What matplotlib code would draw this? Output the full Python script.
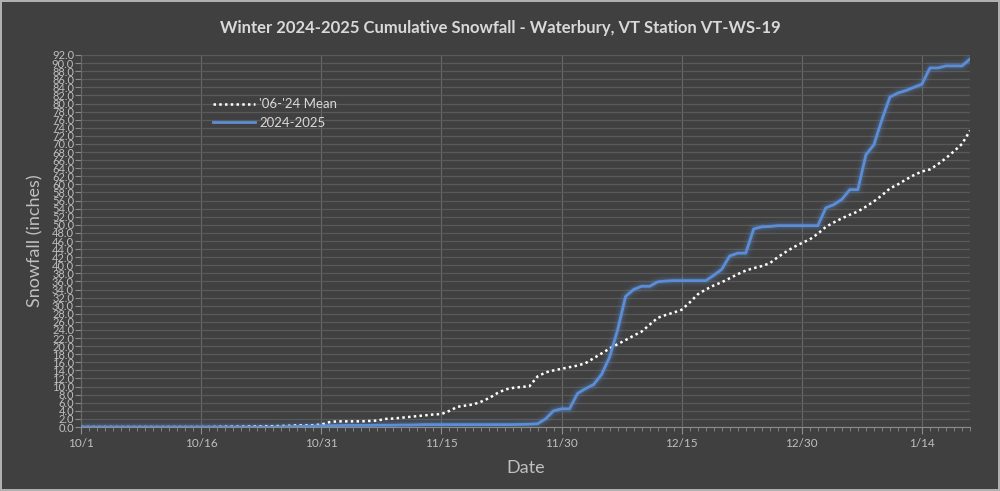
import numpy as np
import pandas as pd
import matplotlib
matplotlib.use('Agg')
import matplotlib.pyplot as plt
from matplotlib.ticker import MultipleLocator

plt.rcParams['font.family'] = ['Lato', 'DejaVu Sans']

# Daily cumulative snowfall (inches), 10/1/2024 .. 1/20/2025
START_DATE = '2024-10-01'

mean_06_24 = [
    0.0, 0.0, 0.0, 0.0, 0.0, 0.0, 0.0, 0.0, 0.0, 0.0,
    0.0, 0.0, 0.0, 0.0, 0.0, 0.0, 0.0, 0.05, 0.1, 0.1,
    0.1, 0.15, 0.15, 0.2, 0.2, 0.25, 0.3, 0.4, 0.4, 0.45,
    0.6, 1.2, 1.4, 1.4, 1.4, 1.4, 1.5, 1.6, 2.0, 2.1,
    2.3, 2.5, 2.7, 2.9, 3.1, 3.2, 4.0, 5.0, 5.3, 5.6,
    6.3, 7.2, 8.4, 9.3, 9.7, 9.9, 10.1, 12.5, 13.5, 14.0,
    14.4, 14.8, 15.2, 15.8, 17.0, 18.2, 19.4, 20.5, 21.5, 22.6,
    23.6, 25.3, 27.0, 27.7, 28.3, 29.0, 30.8, 32.8, 34.0, 35.0,
    35.8, 36.8, 37.8, 38.7, 39.3, 39.8, 40.5, 42.0, 43.3, 44.5,
    45.5, 46.4, 47.8, 49.5, 50.6, 51.6, 52.5, 53.3, 54.5, 55.8,
    57.3, 59.0, 60.0, 61.2, 62.3, 63.2, 63.7, 65.0, 66.5, 68.2,
    70.0, 73.3,
]

season_24_25 = [
    0.0, 0.0, 0.0, 0.0, 0.0, 0.0, 0.0, 0.0, 0.0, 0.0,
    0.0, 0.0, 0.0, 0.0, 0.0, 0.0, 0.0, 0.0, 0.0, 0.0,
    0.0, 0.0, 0.0, 0.0, 0.0, 0.05, 0.1, 0.15, 0.2, 0.25,
    0.3, 0.35, 0.35, 0.4, 0.4, 0.4, 0.4, 0.45, 0.45, 0.45,
    0.5, 0.5, 0.55, 0.6, 0.6, 0.6, 0.6, 0.6, 0.6, 0.6,
    0.6, 0.6, 0.6, 0.6, 0.6, 0.65, 0.7, 0.8, 2.0, 4.0,
    4.5, 4.5, 8.3, 9.5, 10.5, 13.0, 17.3, 24.0, 32.3, 34.0,
    34.8, 34.8, 35.9, 36.1, 36.2, 36.2, 36.2, 36.2, 36.2, 37.5,
    39.0, 42.3, 43.0, 43.0, 49.0, 49.5, 49.6, 49.8, 49.8, 49.8,
    49.8, 49.8, 49.8, 54.2, 55.0, 56.3, 58.7, 58.7, 67.3, 69.8,
    76.0, 81.6, 82.6, 83.2, 84.0, 84.8, 88.8, 88.8, 89.3, 89.3,
    89.3, 91.0,
]

x_tick_labels = ['10/1', '10/16', '10/31', '11/15', '11/30', '12/15', '12/30', '1/14']

BG = '#404040'
TXT = '#d9d9d9'
TICK_TXT = '#bfbfbf'
GRID = '#595959'
BLUE = '#5b8ed6'

dates = pd.date_range(START_DATE, periods=len(mean_06_24), freq='D')
day = np.arange(len(dates))

fig = plt.figure(figsize=(10.0, 4.91), dpi=100, facecolor=BG)
fig.patch.set_edgecolor('#b0b0b0')
fig.patch.set_linewidth(1.5)
ax = fig.add_axes([0.081, 0.1303, 0.889, 0.7577], facecolor=BG)

# glow behind the season line
for lw, a in [(9, 0.06), (6, 0.10), (4, 0.16)]:
    ax.plot(day, season_24_25, color=BLUE, lw=lw, alpha=a, solid_capstyle='round', zorder=2)

ax.plot(day, mean_06_24, color='white', lw=1.8, linestyle=(0, (1, 1.3)),
        label="'06-'24 Mean", zorder=3)
ax.plot(day, season_24_25, color=BLUE, lw=2.0, label='2024-2025', zorder=4)

ax.set_xlim(0, len(day) - 1)
ax.set_ylim(0, 92)

ax.set_xticks(day[::15])
ax.set_xticklabels(x_tick_labels)
ax.xaxis.set_minor_locator(MultipleLocator(1))
ax.yaxis.set_major_locator(MultipleLocator(2))
ax.set_yticklabels([f'{v:.1f}' for v in ax.get_yticks()])

ax.tick_params(axis='x', which='major', colors='#8c8c8c', labelcolor=TICK_TXT,
               labelsize=8.5, length=5, pad=3)
ax.tick_params(axis='x', which='minor', colors='#8c8c8c', length=3)
ax.tick_params(axis='y', which='major', colors='#8c8c8c', labelcolor=TICK_TXT,
               labelsize=8, length=4, pad=1)

ax.grid(axis='y', color=GRID, lw=0.9, zorder=0)
ax.grid(axis='x', which='major', color='#666666', lw=0.8, zorder=0)
ax.set_axisbelow(True)

for side in ['top', 'right']:
    ax.spines[side].set_visible(False)
ax.spines['left'].set_color('#6a6a6a')
ax.spines['bottom'].set_color('#8c8c8c')

ax.set_ylabel('Snowfall (inches)', color=TICK_TXT, fontsize=13, labelpad=6)
ax.set_xlabel('Date', color=TICK_TXT, fontsize=13, labelpad=8)

fig.suptitle('Winter 2024-2025 Cumulative Snowfall - Waterbury, VT Station VT-WS-19',
             color=TXT, fontsize=12, fontweight='bold', y=0.96)

leg = ax.legend(loc='upper left', bbox_to_anchor=(0.135, 0.915), frameon=False,
                fontsize=9.5, handlelength=3.2, handletextpad=0.3, labelspacing=0.5)
for t in leg.get_texts():
    t.set_color(TXT)

fig.savefig('out.png', dpi=100, facecolor=BG, edgecolor=fig.get_edgecolor())
